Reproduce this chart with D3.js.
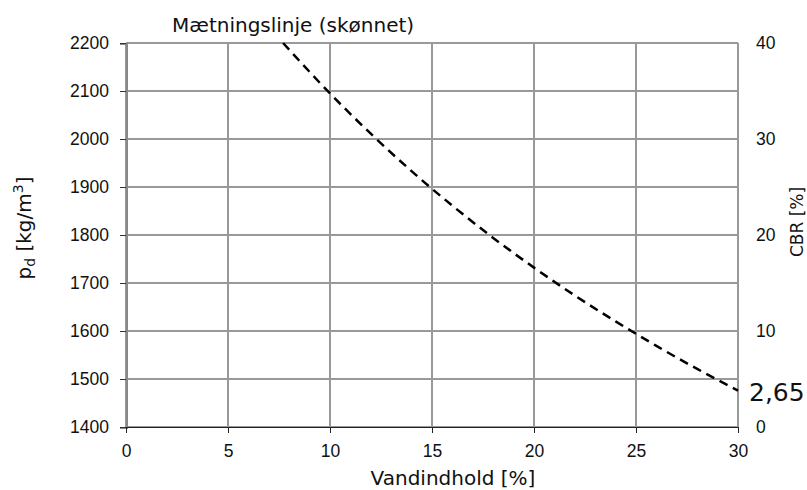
<!DOCTYPE html>
<html>
<head>
<meta charset="utf-8">
<script src="https://cdn.jsdelivr.net/npm/d3@7"></script>
<style>
  body { margin: 0; background: #fff; }
  svg { font-family: "DejaVu Sans", Verdana, sans-serif; }
  .axis path, .axis line { shape-rendering: crispEdges; }
</style>
</head>
<body>
<div id="chart"></div>
<script>
// water content [%]
const WATER = [7.7, 8, 10, 12, 14, 16, 18, 20, 22, 24, 26, 28, 30];
// dry density [kg/m3] at those water contents
const DENSITY = [2200, 2186, 2095, 2011, 1933, 1861, 1794, 1732, 1674, 1620, 1569, 1521, 1476];

const X_TICKS = [0, 5, 10, 15, 20, 25, 30];
const Y_TICKS = [1400, 1500, 1600, 1700, 1800, 1900, 2000, 2100, 2200];
const CBR_TICKS = [0, 10, 20, 30, 40];

const width = 807;
const height = 490;
const margin = { top: 43, right: 69, bottom: 63, left: 126 };
const w = width - margin.left - margin.right;
const h = height - margin.top - margin.bottom;

const svg = d3.select("#chart")
  .append("svg")
  .attr("width", width)
  .attr("height", height);

const x = d3.scaleLinear().domain([0, 30]).range([0, w]);
const y = d3.scaleLinear().domain([1400, 2200]).range([h, 0]);
const yCbr = d3.scaleLinear().domain([0, 40]).range([h, 0]);

const g = svg.append("g")
  .attr("transform", `translate(${margin.left},${margin.top})`);

// grid
g.append("g")
  .selectAll("line")
  .data(Y_TICKS)
  .join("line")
  .attr("x1", 0).attr("x2", w)
  .attr("y1", (d) => y(d)).attr("y2", (d) => y(d))
  .attr("stroke", "#999").attr("stroke-width", 2);

g.append("g")
  .selectAll("line")
  .data(X_TICKS)
  .join("line")
  .attr("x1", (d) => x(d)).attr("x2", (d) => x(d))
  .attr("y1", 0).attr("y2", h)
  .attr("stroke", "#999").attr("stroke-width", 2);

// left axis
const yAxis = g.append("g")
  .attr("class", "axis")
  .call(d3.axisLeft(y).tickValues(Y_TICKS).tickFormat(d3.format("d")).tickSize(6).tickPadding(11));
yAxis.select(".domain").attr("stroke", "#888").attr("stroke-width", 2);
yAxis.selectAll(".tick line").attr("stroke", "#333");
yAxis.selectAll("text").attr("font-size", 17.5).attr("fill", "#111");

// bottom axis
const xAxis = g.append("g")
  .attr("class", "axis")
  .attr("transform", `translate(0,${h})`)
  .call(d3.axisBottom(x).tickValues(X_TICKS).tickSize(6).tickPadding(12));
xAxis.select(".domain").attr("stroke", "#222").attr("stroke-width", 1.5);
xAxis.selectAll(".tick line").attr("stroke", "#222");
xAxis.selectAll("text").attr("font-size", 17.5).attr("fill", "#111");

// right axis (CBR)
const rAxis = g.append("g")
  .attr("class", "axis")
  .attr("transform", `translate(${w},0)`)
  .call(d3.axisRight(yCbr).tickValues(CBR_TICKS).tickSize(0).tickPadding(18));
rAxis.select(".domain").remove();
rAxis.selectAll("text").attr("font-size", 17.5).attr("fill", "#111");

// saturation line
const line = d3.line()
  .x((d, i) => x(WATER[i]))
  .y((d) => y(d))
  .curve(d3.curveMonotoneX);

g.append("path")
  .datum(DENSITY)
  .attr("fill", "none")
  .attr("stroke", "#000")
  .attr("stroke-width", 2.5)
  .attr("stroke-dasharray", "9,6")
  .attr("d", line);

// labels
svg.append("text")
  .attr("x", 172).attr("y", 32)
  .attr("font-size", 20).attr("fill", "#111")
  .text("Mætningslinje (skønnet)");

g.append("text")
  .attr("x", w + 11)
  .attr("y", y(DENSITY[DENSITY.length - 1]) + 10)
  .attr("font-size", 25).attr("fill", "#111")
  .text("2,65");

svg.append("text")
  .attr("x", 453)
  .attr("y", 485)
  .attr("text-anchor", "middle")
  .attr("font-size", 20).attr("fill", "#111")
  .text("Vandindhold [%]");

const yl = svg.append("text")
  .attr("transform", "translate(31,228) rotate(-90)")
  .attr("text-anchor", "middle")
  .attr("font-size", 20).attr("fill", "#111");
yl.append("tspan").text("p");
yl.append("tspan").attr("font-size", 14).attr("dy", 4).text("d");
yl.append("tspan").attr("dy", -4).text(" [kg/m");
yl.append("tspan").attr("font-size", 14).attr("dy", -8).text("3");
yl.append("tspan").attr("dy", 8).text("]");

svg.append("text")
  .attr("transform", "translate(803,222) rotate(-90)")
  .attr("text-anchor", "middle")
  .attr("font-size", 17).attr("fill", "#111")
  .text("CBR [%]");
</script>
</body>
</html>
